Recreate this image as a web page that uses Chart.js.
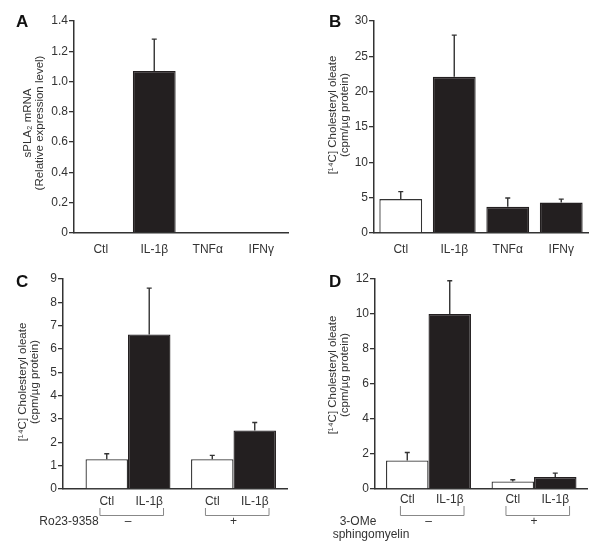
<!DOCTYPE html>
<html><head><meta charset="utf-8">
<script src="https://cdn.jsdelivr.net/npm/chart.js@4"></script>
<style>
body{margin:0;background:#fff;width:601px;height:550px;position:relative;overflow:hidden}
canvas{position:absolute}
</style></head><body>
<canvas id="cA" width="300" height="260" style="left:0;top:0"></canvas>
<canvas id="cB" width="301" height="260" style="left:300px;top:0"></canvas>
<canvas id="cC" width="300" height="290" style="left:0;top:260px"></canvas>
<canvas id="cD" width="301" height="290" style="left:300px;top:260px"></canvas>
<script>
// ---------- data ----------
const catsAB = ['Ctl', 'IL-1β', 'TNFα', 'IFNγ'];
const valA = [0, 1.07, 0, 0];
const errTopA = [null, 1.28, null, null];
const ticksA = ['0', '0.2', '0.4', '0.6', '0.8', '1.0', '1.2', '1.4'];

const valB = [4.8, 22.1, 3.7, 4.3];
const errTopB = [5.85, 28.0, 4.95, 4.8];
const ticksB = ['0', '5', '10', '15', '20', '25', '30'];

const groupsCD = ['–', '+'];
const barLabelsCD = ['Ctl', 'IL-1β'];

const ctlC = [1.28, 1.28];
const ctlErrTopC = [1.51, 1.44];
const ilC = [6.62, 2.51];
const ilErrTopC = [8.61, 2.85];
const ticksC = ['0', '1', '2', '3', '4', '5', '6', '7', '8', '9'];

const ctlD = [1.63, 0.43];
const ctlErrTopD = [2.09, 0.53];
const ilD = [10.0, 0.68];
const ilErrTopD = [11.9, 0.91];
const ticksD = ['0', '2', '4', '6', '8', '10', '12'];

// ---------- styling ----------
const FONT = '"Liberation Sans", Arial, sans-serif';
const INK = '#333';
const BLACK = '#231f20';

const errPlugin = {
  id: 'errbars',
  afterDatasetsDraw(chart) {
    const ctx = chart.ctx, ys = chart.scales.y;
    chart.data.datasets.forEach((ds, di) => {
      if (!ds.errTop) return;
      const meta = chart.getDatasetMeta(di);
      meta.data.forEach((el, j) => {
        const t = ds.errTop[j];
        if (t == null) return;
        const yE = ys.getPixelForValue(t);
        ctx.save();
        ctx.strokeStyle = INK; ctx.lineWidth = 1.4;
        ctx.beginPath();
        ctx.moveTo(el.x, el.y); ctx.lineTo(el.x, yE);
        ctx.moveTo(el.x - 2.5, yE); ctx.lineTo(el.x + 2.5, yE);
        ctx.stroke();
        ctx.restore();
      });
    });
  }
};

const textPlugin = {
  id: 'paneltext',
  afterDraw(chart, args, o) {
    const ctx = chart.ctx;
    ctx.save();
    ctx.fillStyle = '#111';
    ctx.font = 'bold 17px ' + FONT;
    ctx.textAlign = 'left'; ctx.textBaseline = 'alphabetic';
    ctx.fillText(o.letter, o.letterX, 27);
    ctx.fillStyle = INK;
    ctx.font = '11.5px ' + FONT;
    ctx.textAlign = 'center'; ctx.textBaseline = 'middle';
    o.title.forEach((line, k) => {
      ctx.save();
      ctx.translate(o.titleX[k], o.titleY);
      ctx.rotate(-Math.PI / 2);
      ctx.fillText(line, 0, 0);
      ctx.restore();
    });
    if (o.groups) {
      ctx.font = '12px ' + FONT;
      const m0 = chart.getDatasetMeta(0), m1 = chart.getDatasetMeta(1);
      o.groups.forEach((g, i) => {
        const e0 = m0.data[i], e1 = m1.data[i];
        ctx.fillStyle = INK;
        ctx.fillText(barLabelsCD[0], e0.x, o.labY);
        ctx.fillText(barLabelsCD[1], e1.x, o.labY);
        const L = e0.x - ctx.measureText(barLabelsCD[0]).width / 2;
        const R = e1.x + ctx.measureText(barLabelsCD[1]).width / 2;
        ctx.strokeStyle = '#888'; ctx.lineWidth = 1;
        ctx.beginPath();
        ctx.moveTo(L + 0.5, o.brTop); ctx.lineTo(L + 0.5, o.brBot + 0.5);
        ctx.lineTo(R + 0.5, o.brBot + 0.5); ctx.lineTo(R + 0.5, o.brTop);
        ctx.stroke();
        ctx.fillText(g, chart.scales.x.getPixelForValue(i), o.signY);
      });
      o.treat.forEach(t => ctx.fillText(t.text, t.x, t.y));
    }
    ctx.restore();
  }
};

function yScale(max, step, labels, left) {
  return {
    min: 0, max: max,
    ticks: { stepSize: step, autoSkip: false, callback: (v, i) => labels[i], font: { family: FONT, size: 12 }, color: INK, padding: 1 },
    grid: { drawOnChartArea: false, drawTicks: true, tickLength: 5, color: INK, lineWidth: 1.3 },
    border: { display: true, color: INK, width: 1.5 },
    afterFit: s => { s.width = left; }
  };
}

function panelAB(id, vals, errTop, colors, borders, ylab, ymax, ystep, letter, letterX, title, titleX, titleY) {
  const c = document.getElementById(id);
  const W = c.width, H = c.height;
  const area = { left: 74, right: 288, top: 21, bottom: 233 };
  new Chart(c, {
    type: 'bar',
    data: { labels: catsAB, datasets: [{ data: vals, errTop: errTop, backgroundColor: colors, borderColor: borders, borderWidth: 1.3, categoryPercentage: 0.8, barPercentage: 1.0 }] },
    options: {
      responsive: false, animation: false, devicePixelRatio: 1,
      layout: { padding: { left: 0, top: area.top, right: W - area.right, bottom: 0 } },
      plugins: { legend: { display: false }, tooltip: { enabled: false },
        paneltext: { letter, letterX, title, titleX, titleY } },
      scales: {
        x: { type: 'category', offset: true,
          ticks: { font: { family: FONT, size: 12 }, color: INK, padding: 9 },
          grid: { display: false, drawTicks: false },
          border: { display: true, color: INK, width: 1.5 },
          afterFit: s => { s.height = H - area.bottom; } },
        y: yScale(ymax, ystep, ylab, area.left)
      }
    },
    plugins: [errPlugin, textPlugin]
  });
}

function panelCD(id, ctl, ctlErr, il, ilErr, ylab, ymax, ystep, area, xmin, xmax, letter, letterX, title, titleX, titleY, treat, labY) {
  const c = document.getElementById(id);
  const W = c.width, H = c.height;
  new Chart(c, {
    type: 'bar',
    data: { datasets: [
      { data: ctl.map((v, i) => ({ x: i, y: v })), errTop: ctlErr, backgroundColor: '#fff', borderColor: INK, borderWidth: 1.3, categoryPercentage: 0.805, barPercentage: 1.0 },
      { data: il.map((v, i) => ({ x: i, y: v })), errTop: ilErr, backgroundColor: BLACK, borderColor: BLACK, borderWidth: 1.3, categoryPercentage: 0.805, barPercentage: 1.0 }
    ] },
    options: {
      responsive: false, animation: false, devicePixelRatio: 1,
      layout: { padding: { left: 0, top: area.top, right: W - area.right, bottom: 0 } },
      plugins: { legend: { display: false }, tooltip: { enabled: false },
        paneltext: { letter, letterX, title, titleX, titleY, groups: groupsCD, labY, brTop: labY + 6, brBot: 255, signY: 262, treat } },
      scales: {
        x: { type: 'linear', offset: false, min: xmin, max: xmax,
          afterBuildTicks: s => { s.ticks = groupsCD.map((g, i) => ({ value: i })); },
          ticks: { display: false },
          grid: { display: false, drawTicks: false },
          border: { display: true, color: INK, width: 1.5 },
          afterFit: s => { s.height = H - area.bottom; } },
        y: yScale(ymax, ystep, ylab, area.left)
      }
    },
    plugins: [errPlugin, textPlugin]
  });
}

panelAB('cA', valA, errTopA, BLACK, BLACK, ticksA, 1.4, 0.2, 'A', 16,
  ['sPLA₂ mRNA', '(Relative expression level)'], [28, 40], 123);
panelAB('cB', valB, errTopB, ['#fff', BLACK, BLACK, BLACK], [INK, BLACK, BLACK, BLACK], ticksB, 30, 5, 'B', 29,
  ['[¹⁴C] Cholesteryl oleate', '(cpm/µg protein)'], [33, 45], 115);
panelCD('cC', ctlC, ctlErrTopC, ilC, ilErrTopC, ticksC, 9, 1,
  { left: 63, right: 287, top: 19, bottom: 229 }, -0.616, 1.507, 'C', 16,
  ['[¹⁴C] Cholesteryl oleate', '(cpm/µg protein)'], [23, 35], 122,
  [{ text: 'Ro23-9358', x: 69, y: 262 }], 242);
panelCD('cD', ctlD, ctlErrTopD, ilD, ilErrTopD, ticksD, 12, 2,
  { left: 75, right: 287, top: 19, bottom: 229 }, -0.507, 1.502, 'D', 29,
  ['[¹⁴C] Cholesteryl oleate', '(cpm/µg protein)'], [33, 45], 115,
  [{ text: '3-OMe', x: 58, y: 262 }, { text: 'sphingomyelin', x: 71, y: 275 }], 240);
</script>
</body></html>
